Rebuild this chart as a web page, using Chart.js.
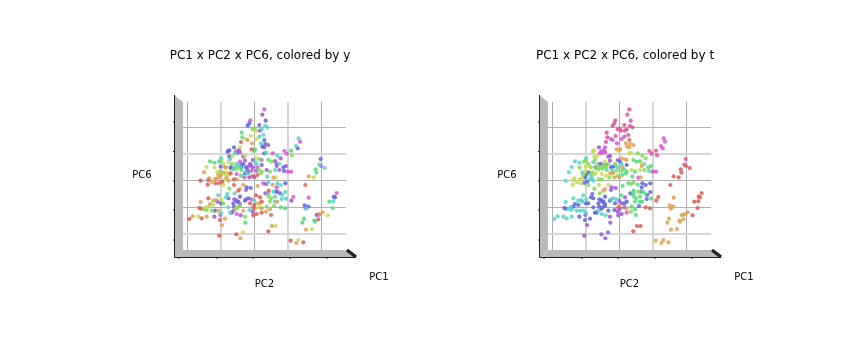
<!DOCTYPE html>
<html>
<head>
<meta charset="utf-8">
<title>PC1 x PC2 x PC6</title>
<script src="https://cdn.jsdelivr.net/npm/chart.js@4/dist/chart.umd.min.js"></script>
<style>
    html, body { margin: 0; background: #fff; }
    #page { position: relative; width: 864px; height: 360px; overflow: hidden; }
    #page canvas { position: absolute; top: 0; }
</style>
</head>
<body>
<div id="page">
    <canvas id="chart-y" width="520" height="360" style="left:0"></canvas>
    <canvas id="chart-t" width="520" height="360" style="left:365px"></canvas>
</div>
<script>
const gridPc2 = [-200, -100, 0, 100, 200];
const gridPc6 = [-160, -80, 0, 80, 160];

const pc2 = [
    30, 24, -12, 34, -15, -20, 15, 32, 39, 0,
    -5, 5, 22, 17, 27, 15, -38, -36, -11, -25,
    -20, -40, -7, 7, 20, 30, 33, 30, 42, 24,
    -61, -43, -80, -75, -78, -55, -51, -43, -46, -58,
    -8, 2, -1, 35, 30, 55, 69, 90, 97, 110,
    113, 125, 130, 133, 137, 199, 195, 200, 211, 184,
    186, 163, 178, 153, -133, -120, -143, -119, -151, -106,
    -100, -101, -75, -66, -73, -100, -93, -85, -71, -53,
    -39, -33, -40, -51, -63, -70, -82, -86, -93, -100,
    -111, -108, -75, -71, -53, -40, -28, -18, -5, -30,
    7, 22, -5, -28, -18, -5, 9, 17, 42, 52,
    62, 79, 67, 75, 87, 95, 100, 89, 110, 75,
    47, 20, 9, 57, 64, 39, 0, -15, -161, -138,
    -128, -118, -135, -140, -116, -105, -96, -88, -83, -78,
    -61, -53, -93, -75, -61, -43, -48, -33, -23, -25,
    -11, 10, 27, 35, 42, 55, 69, 93, 67, 79,
    42, 57, 69, 84, 93, 33, 77, 43, 42, 50,
    62, 69, 82, 95, 117, 111, 163, -108, -81, -85,
    -78, -59, -60, -161, -138, -123, -115, -99, -111, -93,
    -100, -133, -123, -138, -146, -165, -161, -143, -151, -128,
    -118, -108, -100, -102, -78, -55, -48, -43, -63, -55,
    -43, -50, -68, -73, -63, -53, -41, -33, -15, -5,
    -28, -18, -8, 0, 5, 17, 15, 22, 0, -13,
    15, 2, -3, 22, 37, 47, 59, 79, 92, 35,
    50, 7, -3, 22, -28, -27, -88, -97, -103, -143,
    -120, -158, -168, -185, -195, -105, -54, -34, -42, 42,
    53, 64, 109, 132, 126, 147, 155, 173, 144, 149,
    182, 180, 192, 197, 187, 193, 205, 220, 235, 225,
    237, 242, 238, 247, 151, 153, 162, 155, -43, -21,
    -13, -33, -28, 7, 22, -43, -78, -88, -103, -61,
    -48, -58, -38, -25, -11, 2, 13, 22, -21, -8,
    7, 37, 62, 67, -68, -113, -103, -25, -43, -51,
    -61, 65, 62, 47, 7
];
const pc6 = [
    213, 197, 180, 179, 171, 164, 166, 163, 159, 156,
    153, 149, 153, 149, 136, 131, 143, 129, 133, 124,
    121, 115, 111, 124, 111, 121, 109, 99, 106, 101,
    99, 99, 86, 90, 88, 87, 83, 84, 91, 81,
    93, 93, 88, 83, 81, 81, 74, 88, 80, 89,
    75, 103, 96, 126, 116, 64, 47, 43, 37, 33,
    23, 12, 9, -14, 57, 53, 40, 38, 24, 56,
    66, 41, 71, 73, 63, 59, 49, 39, 39, 49,
    46, 49, 39, 35, 33, 36, 24, 16, 24, 16,
    24, 16, 19, 21, 19, 14, 21, 23, 13, 9,
    49, 46, 61, 59, 41, 39, 39, 63, 61, 56,
    58, 66, 43, 31, 39, 43, 26, 28, 26, 49,
    26, 21, 16, 8, 9, 11, 9, 9, -1, 1,
    -5, 4, 6, -13, -9, -8, -4, 3, 8, -1,
    3, 3, -14, -25, -14, -26, -31, -14, -21, -29,
    -23, -17, -9, -11, -7, -13, -9, -9, -21, -14,
    -39, -34, -34, -44, -35, -39, -39, -31, -47, -54,
    -49, -64, -56, -55, -50, -61, -52, -45, -41, -51,
    -54, -39, -57, -65, -54, -61, -59, -57, -64, -69,
    -69, -71, -74, -79, -81, -83, -85, -89, -87, -91,
    -91, -91, -98, -104, -81, -59, -64, -71, -69, -86,
    -77, -81, -97, -97, -91, -101, -105, -91, -89, -94,
    -61, -54, -57, -61, -45, -51, -69, -64, -74, -69,
    -81, -85, -82, -84, -79, -87, -77, -81, -84, -94,
    -104, -101, -105, -97, -109, -127, -115, -134, -119, -109,
    -109, -114, -109, -108, -116, -166, -162, -156, -174, -153,
    -137, -137, -181, -179, -188, -186, -148, -146, -127, -115,
    -124, -121, -117, -102, -104, -103, -96, -105, -83, -64,
    -63, -51, -49, -38, -75, -82, -79, -85, 41, 21,
    49, 71, 73, 66, 61, 56, 54, 39, 27, 49,
    46, 39, 31, 39, 46, 56, 33, 26, 31, 29,
    29, 31, 31, 49, 49, 6, 9, -57, -49, -64,
    -79, -34, -64, -64, -69
];
// 0 red, 1 orange, 2 yellow, 3 lime, 4 green, 5 teal, 6 blue, 7 purple, 8 magenta, 9 pink
const classY = [
    8, 7, 8, 6, 6, 6, 6, 5, 5, 3,
    3, 2, 5, 7, 5, 5, 4, 4, 2, 2,
    1, 0, 1, 2, 5, 6, 6, 7, 7, 6,
    6, 2, 6, 6, 7, 8, 7, 8, 7, 5,
    0, 4, 4, 5, 6, 8, 5, 8, 8, 4,
    3, 5, 6, 5, 8, 6, 5, 8, 5, 4,
    4, 1, 2, 0, 4, 4, 2, 2, 1, 5,
    5, 6, 6, 2, 5, 3, 2, 3, 7, 5,
    6, 6, 6, 3, 4, 6, 2, 2, 1, 1,
    2, 1, 1, 0, 8, 4, 6, 6, 0, 8,
    5, 6, 7, 7, 8, 7, 8, 4, 4, 3,
    7, 7, 7, 7, 6, 7, 8, 6, 8, 5,
    3, 3, 0, 1, 2, 5, 7, 7, 0, 0,
    1, 1, 1, 0, 0, 0, 0, 2, 1, 1,
    0, 1, 2, 3, 0, 1, 0, 1, 6, 7,
    6, 1, 8, 7, 5, 1, 5, 6, 8, 5,
    5, 5, 8, 5, 5, 7, 6, 0, 3, 3,
    5, 1, 5, 5, 8, 7, 8, 5, 5, 5,
    6, 5, 7, 1, 0, 3, 1, 2, 7, 3,
    6, 1, 2, 2, 2, 0, 0, 4, 3, 3,
    6, 1, 5, 8, 5, 8, 7, 7, 6, 3,
    3, 3, 6, 5, 8, 8, 7, 1, 5, 7,
    6, 6, 8, 5, 0, 0, 1, 0, 0, 0,
    2, 1, 0, 1, 3, 1, 3, 4, 4, 1,
    0, 0, 0, 0, 3, 4, 1, 1, 0, 1,
    7, 0, 2, 1, 0, 0, 0, 2, 1, 0,
    1, 2, 0, 2, 1, 0, 1, 2, 4, 4,
    5, 4, 0, 1, 7, 8, 1, 2, 4, 4,
    5, 6, 7, 8, 6, 7, 6, 5, 5, 5,
    7, 7, 2, 2, 8, 8, 2, 1, 3, 2,
    5, 5, 4, 6, 7, 5, 3, 3, 6, 8,
    7, 7, 5, 7, 5, 1, 1, 8, 6, 6,
    7, 6, 5, 3, 2
];
const classT = [
    9, 9, 9, 9, 9, 9, 9, 9, 9, 9,
    9, 9, 9, 9, 9, 9, 9, 9, 9, 8,
    8, 9, 8, 8, 1, 0, 1, 1, 1, 1,
    7, 8, 2, 2, 2, 8, 8, 8, 8, 8,
    1, 1, 2, 2, 2, 3, 3, 9, 9, 9,
    9, 8, 8, 8, 8, 9, 9, 0, 0, 0,
    0, 0, 0, 0, 5, 5, 5, 3, 5, 3,
    5, 2, 2, 2, 3, 3, 3, 3, 6, 6,
    6, 3, 3, 4, 3, 3, 3, 5, 6, 6,
    5, 3, 3, 2, 2, 2, 1, 1, 3, 3,
    5, 6, 7, 7, 6, 5, 1, 1, 4, 4,
    4, 3, 1, 3, 4, 4, 8, 4, 8, 5,
    4, 4, 4, 8, 1, 4, 1, 1, 5, 2,
    2, 2, 2, 2, 2, 6, 6, 5, 5, 5,
    3, 3, 3, 3, 2, 1, 1, 2, 7, 7,
    7, 4, 4, 3, 3, 4, 6, 6, 6, 6,
    4, 3, 4, 6, 6, 6, 4, 4, 4, 4,
    4, 4, 6, 4, 0, 0, 1, 5, 6, 6,
    6, 3, 6, 5, 5, 5, 5, 5, 5, 6,
    6, 6, 6, 6, 5, 6, 6, 5, 5, 5,
    5, 5, 5, 7, 6, 6, 6, 6, 6, 6,
    6, 6, 6, 6, 5, 5, 5, 6, 6, 7,
    6, 5, 5, 7, 4, 7, 6, 6, 1, 6,
    7, 7, 0, 1, 4, 4, 6, 0, 0, 3,
    4, 7, 7, 8, 7, 7, 6, 7, 6, 5,
    6, 5, 5, 5, 5, 7, 7, 7, 7, 0,
    0, 0, 1, 1, 1, 1, 1, 1, 1, 1,
    1, 1, 1, 1, 1, 1, 1, 0, 0, 0,
    0, 0, 0, 0, 1, 1, 1, 1, 3, 3,
    3, 7, 7, 1, 1, 2, 5, 2, 2, 6,
    3, 3, 4, 6, 5, 6, 4, 4, 5, 3,
    3, 2, 2, 2, 2, 2, 6, 5, 6, 6,
    6, 6, 4, 4, 7
];

const palette = ['#db5f57', '#dba557', '#c8db57', '#82db57', '#57db7a', '#57d3c8', '#5f66db', '#9d57db', '#d457db', '#db579c'];
const wallTicks = [122, 151.5, 181, 210, 240];
const floorTicks = [179, 217, 253, 290, 327];

Chart.defaults.font.family = '"DejaVu Sans", sans-serif';
Chart.defaults.color = '#000';

function classDatasets(classes) {
    return palette.map(function (color, c) {
        const points = [];
        classes.forEach(function (k, i) {
            if (k === c) points.push({ x: pc2[i], y: pc6[i] });
        });
        return { data: points, backgroundColor: color + 'dd', borderWidth: 0, pointRadius: 2.1 };
    });
}

// the 3d box around the plot: grey panes, black edges and the small outer ticks
const paneBox = {
    id: 'paneBox',
    beforeDraw(chart) {
        const ctx = chart.ctx, a = chart.chartArea;
        const x0 = a.left - 9, y0 = a.bottom + 7, x1 = a.right + 10;
        ctx.save();
        ctx.fillStyle = '#b9b9b9';
        ctx.beginPath();
        ctx.moveTo(x0, a.top - 7);
        ctx.lineTo(a.left, a.top);
        ctx.lineTo(a.left, a.bottom);
        ctx.lineTo(a.right, a.bottom);
        ctx.lineTo(x1, y0);
        ctx.lineTo(x0, y0);
        ctx.closePath();
        ctx.fill();

        ctx.strokeStyle = '#d2d2d2';
        ctx.lineWidth = 1;
        ctx.beginPath();
        ctx.moveTo(a.left, a.bottom);
        ctx.lineTo(a.left - 5, y0);
        ctx.stroke();

        ctx.strokeStyle = '#222';
        ctx.beginPath();
        ctx.moveTo(x0 + 0.5, a.top - 7);
        ctx.lineTo(x0 + 0.5, y0 + 0.5);
        ctx.lineTo(x1, y0 + 0.5);
        ctx.stroke();
        wallTicks.forEach(function (y) {
            ctx.beginPath();
            ctx.moveTo(x0 - 1, y);
            ctx.lineTo(x0 + 1, y);
            ctx.stroke();
        });
        floorTicks.forEach(function (x) {
            ctx.beginPath();
            ctx.moveTo(x, y0);
            ctx.lineTo(x, y0 + 2);
            ctx.stroke();
        });
        ctx.lineWidth = 3.4;
        ctx.beginPath();
        ctx.moveTo(a.right + 1, a.bottom);
        ctx.lineTo(x1, y0);
        ctx.stroke();
        ctx.restore();
    },
    afterDraw(chart) {
        const ctx = chart.ctx, a = chart.chartArea;
        ctx.save();
        ctx.font = '10px "DejaVu Sans", sans-serif';
        ctx.fillStyle = '#000';
        ctx.textAlign = 'center';
        ctx.textBaseline = 'middle';
        ctx.fillText('PC6', a.left - 41, 175);
        ctx.fillText('PC1', a.right + 33, 277);
        ctx.restore();
    }
};

function isWide(value) {
    return value === 100 || value === -100 || value === 80 || value === -160;
}

function drawPanel(id, classes, title) {
    new Chart(document.getElementById(id), {
        type: 'scatter',
        data: { datasets: classDatasets(classes) },
        plugins: [paneBox],
        options: {
            responsive: false,
            animation: false,
            layout: { padding: { left: 0, right: 0, top: 0, bottom: 70 } },
            plugins: {
                legend: { display: false },
                tooltip: { enabled: false },
                title: {
                    display: true,
                    text: title,
                    color: '#000',
                    font: { size: 12, weight: 'normal' },
                    padding: { top: 48.5, bottom: 39.1 }
                }
            },
            scales: {
                x: {
                    min: -214,
                    max: 275,
                    border: { display: false },
                    ticks: { display: false, includeBounds: false, stepSize: 100 },
                    afterBuildTicks: function (axis) { axis.ticks = gridPc2.map(function (v) { return { value: v }; }); },
                    grid: {
                        drawTicks: false,
                        color: function (c) { return isWide(c.tick.value) ? '#d6d6d6' : '#b0b0b0'; },
                        lineWidth: function (c) { return isWide(c.tick.value) ? 2 : 1; }
                    },
                    title: { display: true, text: 'PC2', color: '#000', font: { size: 10 }, padding: { top: 28, bottom: 0 } }
                },
                y: {
                    min: -209,
                    max: 235,
                    border: { display: false },
                    afterFit: function (axis) { axis.width = 183; },
                    ticks: { display: false, includeBounds: false, stepSize: 80 },
                    afterBuildTicks: function (axis) { axis.ticks = gridPc6.map(function (v) { return { value: v }; }); },
                    grid: {
                        drawTicks: false,
                        color: function (c) { return isWide(c.tick.value) ? '#d6d6d6' : '#b0b0b0'; },
                        lineWidth: function (c) { return isWide(c.tick.value) ? 2 : 1; }
                    }
                },
                // empty axis, only keeps the room on the right so the title stays centred on the canvas
                spacer: {
                    position: 'right',
                    axis: 'y',
                    border: { display: false },
                    afterFit: function (axis) { axis.width = 174; },
                    ticks: { display: false },
                    grid: { display: false }
                }
            }
        }
    });
}

drawPanel('chart-y', classY, 'PC1 x PC2 x PC6, colored by y');
drawPanel('chart-t', classT, 'PC1 x PC2 x PC6, colored by t');
</script>
</body>
</html>
